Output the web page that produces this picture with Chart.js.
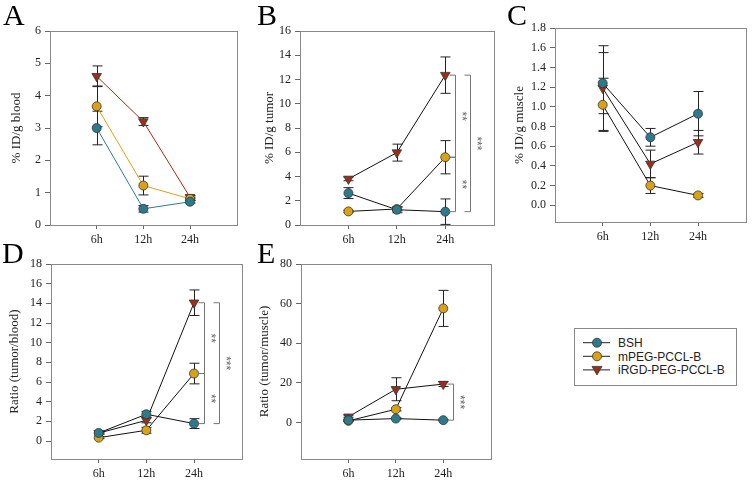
<!DOCTYPE html>
<html>
<head>
<meta charset="utf-8">
<script src="https://cdn.jsdelivr.net/npm/chart.js@4.4.1/dist/chart.umd.min.js"></script>
<style>
  html, body { margin: 0; padding: 0; background: #fff; }
  body { width: 753px; height: 481px; position: relative; overflow: hidden; }
  canvas { position: absolute; }
  #legend { position: absolute; left: 574px; top: 328px; }
</style>
</head>
<body>
<canvas id="chartA"></canvas>
<canvas id="chartB"></canvas>
<canvas id="chartC"></canvas>
<canvas id="chartD"></canvas>
<canvas id="chartE"></canvas>
<svg id="legend" width="164" height="59"></svg>
<script>
const timePoints = ["6h", "12h", "24h"];
const groupNames = ["BSH", "mPEG-PCCL-B", "iRGD-PEG-PCCL-B"];
const groupColors = ["#2d7a8c", "#dba116", "#9e2f17"];

// A: % ID/g blood
const bloodBSH = [3.0, 0.5, 0.72];
const bloodBSHErr = [0.52, 0.1, 0.04];
const bloodMPEG = [3.67, 1.22, 0.81];
const bloodMPEGErr = [0.63, 0.29, 0.05];
const bloodIRGD = [4.6, 3.2, 0.86];
const bloodIRGDErr = [0.32, 0.12, 0.05];

// B: % ID/g tumor
const tumorBSH = [2.63, 1.26, 1.1];
const tumorBSHErr = [0.45, 0.25, 1.05];
const tumorMPEG = [1.12, 1.32, 5.59];
const tumorMPEGErr = [0.1, 0.15, 1.37];
const tumorIRGD = [3.8, 5.97, 12.36];
const tumorIRGDErr = [0.15, 0.7, 1.5];

// C: % ID/g muscle
const muscleBSH = [1.24, 0.69, 0.93];
const muscleBSHErr = [0.31, 0.09, 0.225];
const muscleMPEG = [1.02, 0.2, 0.1];
const muscleMPEGErr = [0.27, 0.08, 0.02];
const muscleIRGD = [1.19, 0.42, 0.64];
const muscleIRGDErr = [0.43, 0.14, 0.12];

// D: ratio tumor/blood
const tbBSH = [0.82, 2.72, 1.77];
const tbBSHErr = [0.1, 0.3, 0.5];
const tbMPEG = [0.34, 1.09, 6.86];
const tbMPEGErr = [0.1, 0.3, 1.05];
const tbIRGD = [0.8, 2.1, 14.06];
const tbIRGDErr = [0.1, 0.25, 1.3];

// E: ratio tumor/muscle
const tmBSH = [1.2, 2.0, 1.2];
const tmBSHErr = [0.3, 0.3, 0.3];
const tmMPEG = [0.85, 6.7, 57.6];
const tmMPEGErr = [0.3, 0.8, 9.1];
const tmIRGD = [2.9, 16.8, 19.4];
const tmIRGDErr = [0.5, 5.8, 1.2];

const serif = "'Liberation Serif', 'Times New Roman', serif";

const extras = {
  id: "extras",
  beforeDatasetsDraw(chart) {
    const { ctx, scales: { x, y } } = chart;
    ctx.save();
    ctx.strokeStyle = "#222";
    ctx.lineWidth = 1;
    chart.data.datasets.forEach((ds) => {
      ds.errors.forEach((e, i) => {
        const px = Math.round(x.getPixelForValue(i)) + 0.5;
        const top = y.getPixelForValue(ds.data[i].y + e);
        const bot = y.getPixelForValue(ds.data[i].y - e);
        ctx.beginPath();
        ctx.moveTo(px, top);
        ctx.lineTo(px, bot);
        ctx.moveTo(px - 5, top);
        ctx.lineTo(px + 5, top);
        ctx.moveTo(px - 5, bot);
        ctx.lineTo(px + 5, bot);
        ctx.stroke();
      });
    });
    ctx.restore();
  },
  afterDatasetsDraw(chart, args, opts) {
    const { ctx, scales: { x, y } } = chart;
    ctx.save();
    ctx.strokeStyle = "#777";
    ctx.fillStyle = "#666";
    ctx.lineWidth = 1;
    ctx.font = "12px 'Liberation Sans', Arial, sans-serif";
    ctx.textAlign = "center";
    ctx.textBaseline = "middle";
    (opts.brackets || []).forEach((b) => {
      const px = x.getPixelForValue(b.at);
      const vx = Math.round(px + (b.level ? 25 : 10)) + 0.5;
      const y1 = y.getPixelForValue(chart.data.datasets[b.from].data[b.at].y);
      const y2 = y.getPixelForValue(chart.data.datasets[b.to].data[b.at].y);
      ctx.beginPath();
      ctx.moveTo(vx - 6, y1);
      ctx.lineTo(vx, y1);
      ctx.lineTo(vx, y2);
      ctx.lineTo(vx - 6, y2);
      ctx.stroke();
      ctx.save();
      ctx.translate(vx + 6, (y1 + y2) / 2);
      ctx.rotate(Math.PI / 2);
      ctx.fillText(b.label, 0, 0);
      ctx.restore();
    });
    ctx.restore();
  },
  afterDraw(chart, args, opts) {
    const { ctx, chartArea: a } = chart;
    ctx.save();
    ctx.strokeStyle = "#888";
    ctx.lineWidth = 1;
    ctx.strokeRect(Math.round(a.left) + 0.5, Math.round(a.top) + 0.5,
      Math.round(a.right - a.left), Math.round(a.bottom - a.top));
    ctx.fillStyle = "#000";
    ctx.font = "30px " + serif;
    ctx.textBaseline = "alphabetic";
    ctx.fillText(opts.letter, opts.letterX, opts.letterY);
    ctx.restore();
  },
};

function makePanel(p) {
  const [L, T, R, B] = p.box;
  const canvas = document.getElementById(p.id);
  canvas.width = R - L + 53;
  canvas.height = B - T + 61;
  canvas.style.left = (L - 50) + "px";
  canvas.style.top = (T - 31) + "px";

  const datasets = p.series.map((s, i) => ({
    label: groupNames[i],
    data: s[0].map((v, k) => ({ x: k, y: v })),
    errors: s[1],
    showLine: true,
    borderColor: p.colouredLines ? groupColors[i] : "#111",
    borderWidth: 1,
    pointStyle: i === 2 ? "triangle" : "circle",
    rotation: i === 2 ? 180 : 0,
    pointRadius: i === 2 ? 5.5 : 4.5,
    pointBackgroundColor: groupColors[i],
    pointBorderColor: "#333",
    pointBorderWidth: 0.8,
  }));

  new Chart(canvas, {
    type: "scatter",
    data: { datasets },
    plugins: [extras],
    options: {
      responsive: false,
      animation: false,
      devicePixelRatio: 1,
      layout: { padding: { top: 31, right: 3, left: 0, bottom: 0 } },
      plugins: {
        legend: { display: false },
        tooltip: { enabled: false },
        extras: { letter: p.letter, letterX: p.letterX, letterY: p.letterY, brackets: p.brackets },
      },
      scales: {
        x: {
          type: "linear",
          min: -1,
          max: 3,
          afterFit: (s) => { s.height = 30; },
          afterBuildTicks: (s) => { s.ticks = s.ticks.filter((t) => t.value >= 0 && t.value <= 2); },
          grid: { drawOnChartArea: false, tickLength: 4, color: "#666" },
          border: { color: "#888" },
          ticks: {
            stepSize: 1,
            padding: 4,
            color: "#222",
            font: { family: serif, size: 12 },
            callback: (v) => timePoints[v] || "",
          },
        },
        y: {
          min: p.yMin,
          max: p.yMax,
          afterFit: (s) => { s.width = 50; },
          afterBuildTicks: (s) => { s.ticks = s.ticks.filter((t) => t.value >= -1e-9); },
          grid: { drawOnChartArea: false, tickLength: 5, color: "#666" },
          border: { color: "#888" },
          title: {
            display: true,
            text: p.yTitle,
            color: "#222",
            font: { family: serif, size: 13 },
            padding: { top: p.titlePad, bottom: 0 },
          },
          ticks: {
            stepSize: p.yStep,
            includeBounds: false,
            padding: 4,
            color: "#222",
            font: { family: serif, size: 12 },
            callback: (v) => Number(v).toFixed(p.decimals),
          },
        },
      },
    },
  });
}

makePanel({
  id: "chartA", letter: "A", letterX: 3, letterY: 25,
  box: [50, 31, 240, 225], yMin: 0, yMax: 6, yStep: 1, decimals: 0,
  yTitle: "% ID/g blood", titlePad: 9, colouredLines: true,
  series: [[bloodBSH, bloodBSHErr], [bloodMPEG, bloodMPEGErr], [bloodIRGD, bloodIRGDErr]],
});

makePanel({
  id: "chartB", letter: "B", letterX: 7, letterY: 25,
  box: [300, 31, 497, 225], yMin: 0, yMax: 16, yStep: 2, decimals: 0,
  yTitle: "% ID/g tumor", titlePad: 12,
  series: [[tumorBSH, tumorBSHErr], [tumorMPEG, tumorMPEGErr], [tumorIRGD, tumorIRGDErr]],
  brackets: [
    { at: 2, from: 2, to: 1, level: 0, label: "**" },
    { at: 2, from: 1, to: 0, level: 0, label: "**" },
    { at: 2, from: 2, to: 0, level: 1, label: "***" },
  ],
});

makePanel({
  id: "chartC", letter: "C", letterX: 2, letterY: 28,
  box: [555, 28, 749, 222], yMin: -0.17, yMax: 1.8, yStep: 0.2, decimals: 1,
  yTitle: "% ID/g muscle", titlePad: 7,
  series: [[muscleBSH, muscleBSHErr], [muscleMPEG, muscleMPEGErr], [muscleIRGD, muscleIRGDErr]],
});

makePanel({
  id: "chartD", letter: "D", letterX: 1, letterY: 30,
  box: [51, 264, 245, 459], yMin: -1.83, yMax: 18, yStep: 2, decimals: 0,
  yTitle: "Ratio (tumor/blood)", titlePad: 6,
  series: [[tbBSH, tbBSHErr], [tbMPEG, tbMPEGErr], [tbIRGD, tbIRGDErr]],
  brackets: [
    { at: 2, from: 2, to: 1, level: 0, label: "**" },
    { at: 2, from: 1, to: 0, level: 0, label: "**" },
    { at: 2, from: 2, to: 0, level: 1, label: "***" },
  ],
});

makePanel({
  id: "chartE", letter: "E", letterX: 6, letterY: 30,
  box: [301, 264, 494, 459], yMin: -18.4, yMax: 80, yStep: 20, decimals: 0,
  yTitle: "Ratio (tumor/muscle)", titlePad: 6,
  series: [[tmBSH, tmBSHErr], [tmMPEG, tmMPEGErr], [tmIRGD, tmIRGDErr]],
  brackets: [
    { at: 2, from: 2, to: 0, level: 0, label: "***" },
  ],
});

// legend
const svgNS = "http://www.w3.org/2000/svg";
const legend = document.getElementById("legend");
function el(tag, attrs, text) {
  const e = document.createElementNS(svgNS, tag);
  Object.entries(attrs).forEach(([k, v]) => e.setAttribute(k, v));
  if (text) e.textContent = text;
  legend.appendChild(e);
  return e;
}
el("rect", { x: 0.5, y: 0.5, width: 162, height: 57, fill: "#fff", stroke: "#888" });
groupNames.forEach((name, i) => {
  const cy = 14.7 + i * 13.6;
  el("line", { x1: 9, y1: cy, x2: 36, y2: cy, stroke: "#222", "stroke-width": 1 });
  if (i === 2) {
    el("polygon", { points: `${23 - 5},${cy - 3.5} ${23 + 5},${cy - 3.5} 23,${cy + 5}`,
      fill: groupColors[i], stroke: "#333", "stroke-width": 0.8 });
  } else {
    el("circle", { cx: 23, cy: cy, r: 4.5, fill: groupColors[i], stroke: "#333", "stroke-width": 0.8 });
  }
  el("text", { x: 44, y: cy + 4.2, "font-family": "'Liberation Sans', Arial, sans-serif",
    "font-size": 12, fill: "#222" }, name);
});
</script>
</body>
</html>
